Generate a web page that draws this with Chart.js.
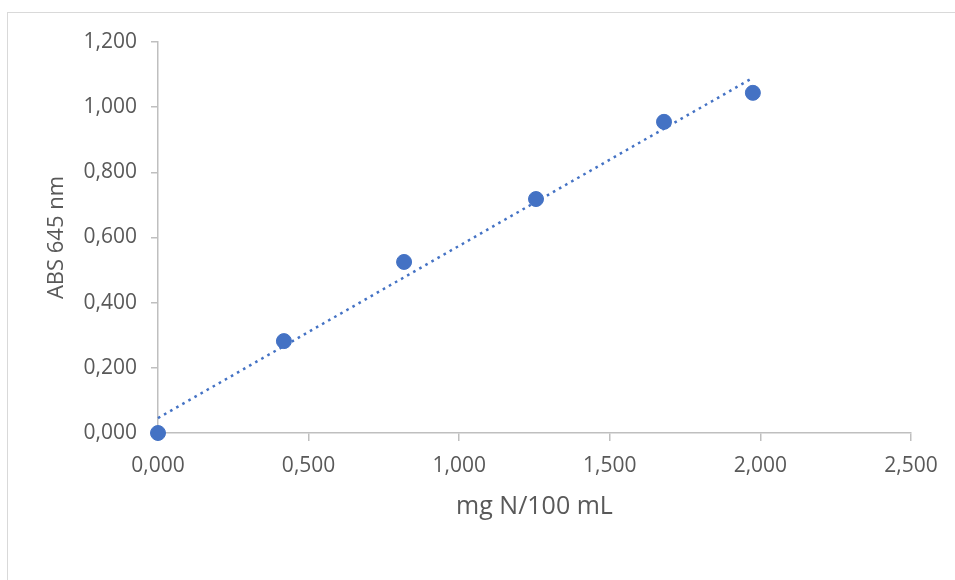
<!DOCTYPE html>
<html>
<head>
<meta charset="utf-8">
<script src="https://cdn.jsdelivr.net/npm/chart.js@4/dist/chart.umd.min.js"></script>
<style>
html, body { margin:0; padding:0; background:#fff; }
#wrap { position:relative; width:955px; height:580px; overflow:hidden; }
#frame { position:absolute; left:7px; top:12px; width:1000px; height:700px;
         border-left:1px solid #d9d9d9; border-top:1px solid #d9d9d9; }
canvas { position:absolute; left:0; top:0; }
</style>
</head>
<body>
<div id="wrap">
  <div id="frame"></div>
  <canvas id="absChart" width="955" height="580"></canvas>
</div>
<script>
// data
const concentrations = [0, 0.418, 0.817, 1.255, 1.68, 1.975];
const absorbances    = [0, 0.282, 0.525, 0.718, 0.955, 1.044];
const xTickRange = [0, 2.5];
const yTickRange = [0, 1.2];

const blue = "#4472c4";
const axisGray = "#bfbfbf";
const textGray = "#595959";
const fontFam = "'Open Sans', 'Liberation Sans', sans-serif";

// linear trendline (least squares), as the spreadsheet draws it
function trendline(xs, ys){
    const n = xs.length;
    let mx = 0, my = 0;
    for(let i=0;i<n;i++){ mx += xs[i]; my += ys[i]; }
    mx /= n; my /= n;
    let sxy = 0, sxx = 0;
    for(let i=0;i<n;i++){ sxy += (xs[i]-mx)*(ys[i]-my); sxx += (xs[i]-mx)*(xs[i]-mx); }
    const b = sxy/sxx, a = my - b*mx;
    const x0 = Math.min(...xs), x1 = Math.max(...xs);
    return [{x:x0, y:a+b*x0}, {x:x1, y:a+b*x1}];
}

const points = concentrations.map((x,i) => ({x:x, y:absorbances[i]}));
const fmt = v => Number(v).toFixed(3).replace(".", ",");

new Chart(document.getElementById("absChart"), {
    type: "scatter",
    data: {
        datasets: [
            {
                type: "line",
                data: trendline(concentrations, absorbances),
                borderColor: blue,
                borderWidth: 2.5,
                borderDash: [2.6, 4.4],
                pointRadius: 0,
                fill: false,
                clip: false,
                order: 2
            },
            {
                data: points,
                backgroundColor: blue,
                borderColor: blue,
                pointRadius: 7.5,
                pointHoverRadius: 7.5,
                clip: false,
                order: 1
            }
        ]
    },
    options: {
        responsive: false,
        animation: false,
        layout: { padding: { left: 0, top: 42, right: 44, bottom: 0 } },
        plugins: { legend: { display: false }, tooltip: { enabled: false } },
        scales: {
            x: {
                type: "linear",
                min: xTickRange[0], max: xTickRange[1],
                border: { color: axisGray, width: 1.5 },
                grid: { drawOnChartArea: false, drawTicks: true, tickLength: 8, color: axisGray, lineWidth: 1.5 },
                ticks: { stepSize: 0.5, padding: 12, color: textGray, font: { family: fontFam, size: 21 }, callback: fmt, maxRotation: 0 },
                title: { display: true, text: "mg N/100 mL", color: textGray, font: { family: fontFam, size: 25 }, padding: { top: 0, bottom: 58 } },
                afterFit: s => { s.height = 580 - 433; }
            },
            y: {
                type: "linear",
                min: yTickRange[0], max: yTickRange[1],
                border: { color: axisGray, width: 1.5 },
                grid: { drawOnChartArea: false, drawTicks: true, tickLength: 7, color: axisGray, lineWidth: 1.5 },
                ticks: { stepSize: 0.2, padding: 14, color: textGray, font: { family: fontFam, size: 21 }, callback: fmt },
                title: { display: true, text: "ABS 645 nm", color: textGray, font: { family: fontFam, size: 22 }, padding: { top: 44, bottom: 0 } },
                afterFit: s => { s.width = 158; }
            }
        }
    }
});
</script>
</body>
</html>
